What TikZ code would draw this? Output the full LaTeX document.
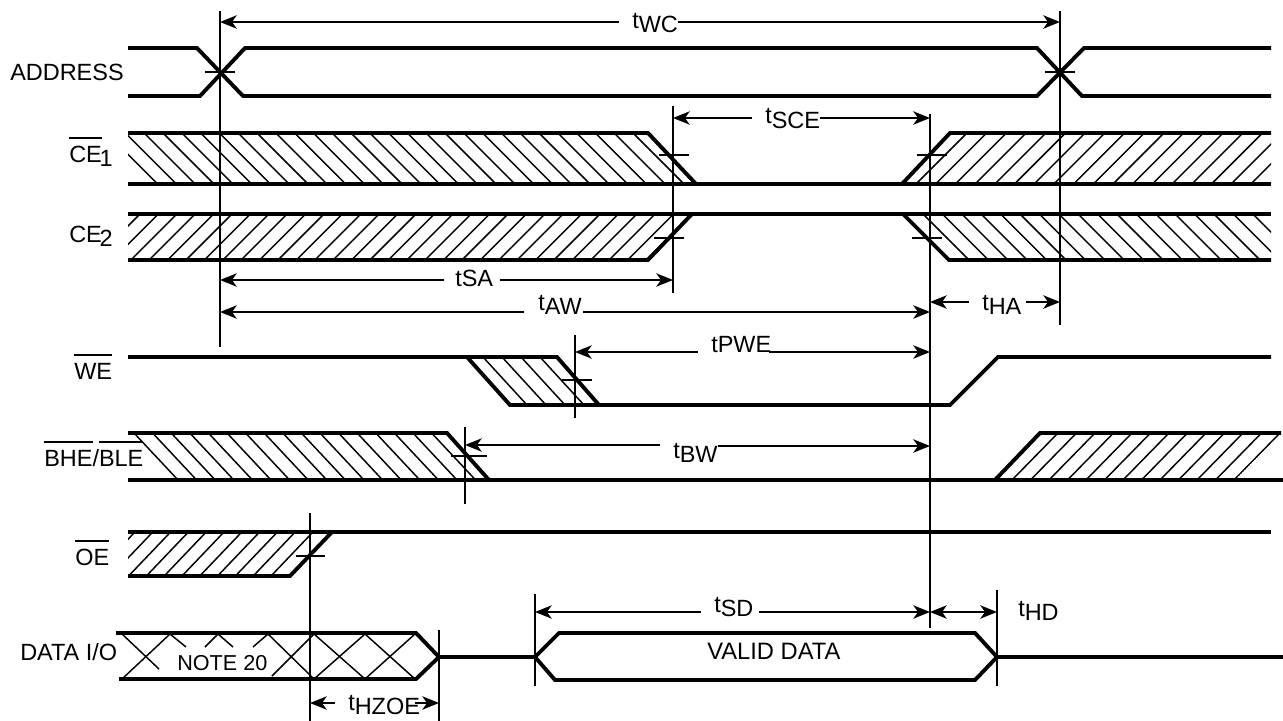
\documentclass[tikz,border=0pt]{standalone}
\usepackage{fontspec}
\setmainfont{Liberation Sans}
\usetikzlibrary{calc, arrows.meta}

% 信号名上的横线
\newcommand{\barsig}[1]{\leavevmode\setbox0=\hbox{#1}\rlap{\raisebox{17.3pt}{\smash{\rule{\wd0}{1.1pt}}}}\box0}
% 时序参数：t 后面的字母下沉
\newcommand{\tsub}[1]{t\raisebox{-3.4pt}{#1}}
% 下标紧贴信号名
\newcommand{\sigsub}[1]{\kern-1.6pt\raisebox{-3.2pt}{#1}}

\tikzset{
  sigline/.style={line width=2.9pt, line cap=butt, line join=miter},
  hatchline/.style={line width=1.1pt},
  timeline/.style={line width=1.5pt},
  tickline/.style={line width=1.3pt},
  tiparrow/.tip={Stealth[length=12.5pt, width=10pt, inset=3.5pt]},
  dimline/.style={line width=1.5pt, -tiparrow},
  siglabel/.style={anchor=base west, inner sep=0pt, font=\fontsize{17.6}{20}\selectfont},
  timelabel/.style={anchor=base west, inner sep=0pt, font=\fontsize{17.6}{20}\selectfont},
}

\begin{document}
\begin{tikzpicture}[x=0.75pt, y=-0.75pt]

\useasboundingbox (0,0) rectangle (1283,721);

% 竖直时间线
\draw[timeline] (220,11) -- (220,347);
\draw[timeline] (673,106) -- (673,293);
\draw[timeline] (930,114) -- (930,628);
\draw[timeline] (1060,11) -- (1060,325);
\draw[timeline] (575,335) -- (575,418);
\draw[timeline] (465,427) -- (465,504);
\draw[timeline] (310,513) -- (310,721);
\draw[timeline] (439,630) -- (439,721);
\draw[timeline] (535,594) -- (535,686);
\draw[timeline] (997,590) -- (997,686);

% ADDRESS
\draw[sigline] (128,48) -- (197,48) -- (243,96) -- (1037,96) -- (1084,48) -- (1271,48);
\draw[sigline] (128,96) -- (200,96) -- (245,48) -- (1037,48) -- (1082,96) -- (1271,96);
\draw[tickline] (205,72) -- (235,72);
\draw[tickline] (1045,72) -- (1075,72);
\node[siglabel] (address) at (10,80) {ADDRESS};

% CE1
\begin{scope}
  \clip (128,133) -- (648,133) -- (696,184) -- (128,184) -- cycle;
  \foreach \x in {106.6,125.4,...,660}
    \draw[hatchline] (\x,133) -- ++(51,51);
\end{scope}
\begin{scope}
  \clip (902,184) -- (950,133) -- (1271,133) -- (1271,184) -- cycle;
  \foreach \x in {967,986.7,...,1322}
    \draw[hatchline] (\x,133) -- ++(-51,51);
\end{scope}
\draw[sigline] (128,133) -- (648,133) -- (696,184);
\draw[sigline] (128,184) -- (1271,184);
\draw[sigline] (902,184) -- (950,133) -- (1271,133);
\draw[tickline] (659,155) -- (689,155);
\draw[tickline] (917,155) -- (947,155);
\node[siglabel] (ceone) at (69,162) {\barsig{CE}\sigsub{1}};

% CE2
\begin{scope}
  \clip (128,214) -- (692,214) -- (648,260) -- (128,260) -- cycle;
  \foreach \x in {140,158.4,...,710}
    \draw[hatchline] (\x,214) -- ++(-46,46);
\end{scope}
\begin{scope}
  \clip (903,214) -- (1271,214) -- (1271,260) -- (949,260) -- cycle;
  \foreach \x in {923,942.4,...,1275}
    \draw[hatchline] (\x,214) -- ++(46,46);
\end{scope}
\draw[sigline] (128,214) -- (1271,214);
\draw[sigline] (128,260) -- (648,260) -- (692,214);
\draw[sigline] (903,214) -- (949,260) -- (1271,260);
\draw[tickline] (654,238) -- (684,238);
\draw[tickline] (912,238) -- (942,238);
\node[siglabel] (cetwo) at (69,242) {CE\sigsub{2}};

% WE
\begin{scope}
  \clip (467,357) -- (557,357) -- (599,405) -- (510,405) -- cycle;
  \foreach \x in {483,502,...,560}
    \draw[hatchline] (\x,357) -- ++(44,48);
\end{scope}
\draw[sigline] (128,357) -- (557,357) -- (599,405);
\draw[sigline] (467,357) -- (510,405) -- (950,405) -- (998,357) -- (1271,357);
\draw[tickline] (562,380) -- (592,380);
\node[siglabel] (we) at (74,379) {\barsig{WE}};

% BHE/BLE
\begin{scope}
  \clip (128,433) -- (447,433) -- (489,480) -- (128,480) -- cycle;
  \foreach \x in {134,152.6,...,450}
    \draw[hatchline] (\x,433) -- ++(44,47);
\end{scope}
\begin{scope}
  \clip (995,480) -- (1040,433) -- (1281,433) -- (1235,480) -- cycle;
  \foreach \x in {1058,1076.5,...,1285}
    \draw[hatchline] (\x,433) -- ++(-46,47);
\end{scope}
\draw[sigline] (128,433) -- (447,433) -- (489,480);
\draw[sigline] (128,480) -- (1283,480);
\draw[sigline] (995,480) -- (1040,433) -- (1281,433);
\draw[tickline] (451,456) -- (487,456);
\node[siglabel] (bhe) at (44,466) {\barsig{BHE}/\barsig{BLE}};

% OE
\begin{scope}
  \clip (128,532) -- (332,532) -- (290,576) -- (128,576) -- cycle;
  \foreach \x in {135,152.8,...,315}
    \draw[hatchline] (\x,532) -- ++(-42,44);
\end{scope}
\draw[sigline] (128,532) -- (1271,532);
\draw[sigline] (128,576) -- (290,576) -- (332,532);
\draw[tickline] (296,556) -- (325,556);
\node[siglabel] (oe) at (75,565) {\barsig{OE}};

% DATA I/O
\foreach \xa/\ya/\xb/\yb in {122/634/159/669, 170/634/186/647, 218/634/233/647, 268/634/314/679,
    314/634/365/679, 365/634/415/679, 122/679/170/634, 205/647/218/634, 253/647/268/634,
    272/676/314/634, 314/679/365/634, 365/679/415/634}
  \draw[hatchline] (\xa,\ya) -- (\xb,\yb);
\draw[sigline] (116,633) -- (416,633) -- (439,657) -- (416,679) -- (119,679);
\draw[sigline] (439,657) -- (535,657) -- (559,633) -- (975,633) -- (997,657) -- (975,680) -- (555,680) -- (535,657);
\draw[sigline] (997,657) -- (1283,657);
\node[siglabel] (dataio) at (20,660) {DATA I/O};
\node[siglabel, font=\fontsize{16.2}{18}\selectfont] (note) at (177,670) {NOTE 20};
\node[siglabel, font=\fontsize{17.8}{20}\selectfont] (valid) at (707,659) {VALID DATA};

% 时序标注
\node[timelabel] (tWC) at (632,28) {\tsub{WC}};
\draw[dimline, shorten <=10pt] (tWC.west |- 0,22) -- (220,22);
\draw[dimline] (tWC.east |- 0,22) -- (1060,22);

\node[timelabel] (tSCE) at (765,123.5) {\tsub{SCE}};
\draw[dimline, shorten <=10pt] (tSCE.west |- 0,118) -- (673,118);
\draw[dimline] (tSCE.east |- 0,118) -- (930,118);

\node[timelabel] (tSA) at (455,286) {tSA};
\draw[dimline, shorten <=8pt] (tSA.west |- 0,280) -- (220,280);
\draw[dimline, shorten <=5pt] (tSA.east |- 0,280) -- (673,280);

\node[timelabel] (tAW) at (538,310) {\tsub{AW}};
\draw[dimline, shorten <=10.5pt] (tAW.west |- 0,312) -- (220,312);
\draw[dimline, shorten <=1pt] (tAW.east |- 0,312) -- (930,312);

\node[timelabel] (tHA) at (982,310) {\tsub{HA}};
\draw[dimline, shorten <=10pt] (tHA.west |- 0,302) -- (930,302);
\draw[dimline, shorten <=3pt] (tHA.east |- 0,302) -- (1060,302);

\node[timelabel] (tPWE) at (711,352) {tPWE};
\draw[dimline, shorten <=10pt] (tPWE.west |- 0,352) -- (575,352);
\draw[dimline, shorten <=-2pt] (tPWE.east |- 0,352) -- (930,352);

\node[timelabel] (tBW) at (673,458) {\tsub{BW}};
\draw[dimline, shorten <=10pt] (tBW.west |- 0,445) -- (465,445);
\draw[dimline] (tBW.east |- 0,446) -- (930,446);

\node[timelabel] (tSD) at (714,612) {\tsub{SD}};
\draw[dimline, shorten <=10pt] (tSD.west |- 0,612) -- (535,612);
\draw[dimline, shorten <=4pt] (tSD.east |- 0,612) -- (930,612);

\node[timelabel] (tHD) at (1018,616) {\tsub{HD}};
\coordinate (hdL) at (930,612);
\coordinate (hdR) at (997,612);
\draw[dimline, tiparrow-tiparrow] (hdL) -- (hdR);

\node[timelabel] (tHZOE) at (348,710) {\tsub{HZOE}};
\draw[dimline, shorten <=10pt] (tHZOE.west |- 0,703) -- (310,703);
\draw[dimline, shorten <=-4pt] (tHZOE.east |- 0,703) -- (439,703);

\end{tikzpicture}
\end{document}
